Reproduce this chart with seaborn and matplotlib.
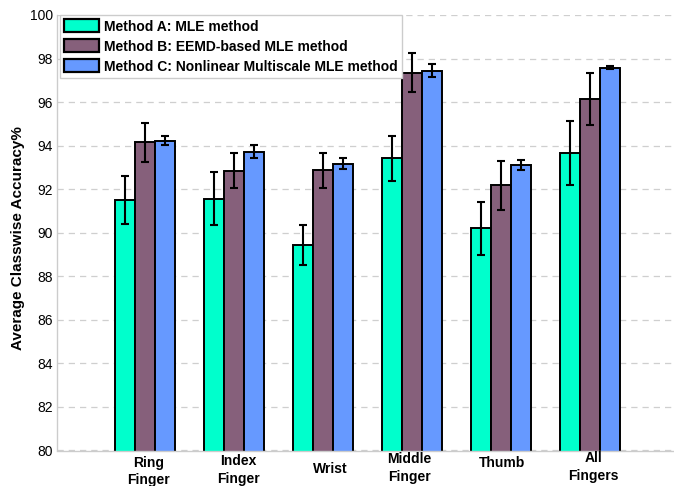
import numpy as np
import pandas as pd
import matplotlib
matplotlib.use("Agg")
import matplotlib.pyplot as plt
from matplotlib.patches import Patch
import seaborn as sns

# Classwise accuracy (%) per finger for the three methods, with error-bar half widths
categories = ["Ring\nFinger", "Index\nFinger", "Wrist", "Middle\nFinger", "Thumb", "All\nFingers"]
methods = [
    "Method A: MLE method",
    "Method B: EEMD-based MLE method",
    "Method C: Nonlinear Multiscale MLE method",
]
acc_a = [91.50, 91.57, 89.43, 93.41, 90.20, 93.67]
acc_b = [94.15, 92.85, 92.86, 97.35, 92.17, 96.13]
acc_c = [94.22, 93.72, 93.18, 97.45, 93.12, 97.58]
err_a = [1.10, 1.20, 0.92, 1.05, 1.23, 1.47]
err_b = [0.90, 0.80, 0.80, 0.90, 1.12, 1.19]
err_c = [0.21, 0.30, 0.23, 0.32, 0.22, 0.08]
yticks = [80, 82, 84, 86, 88, 90, 92, 94, 96, 98, 100]

colors = ["#00FFCC", "#86607B", "#6699FF"]

sns.set_style("white")
plt.rcParams["font.family"] = ["Liberation Sans", "DejaVu Sans"]
plt.rcParams["text.color"] = "black"
plt.rcParams["axes.labelcolor"] = "black"
plt.rcParams["ytick.color"] = "black"
plt.rcParams["xtick.color"] = "black"

accs = [acc_a, acc_b, acc_c]
errs = [err_a, err_b, err_c]
df = pd.DataFrame({
    "finger": categories * 3,
    "method": np.repeat(methods, len(categories)),
    "acc": acc_a + acc_b + acc_c,
})

W, H = 674, 486
fig = plt.figure(figsize=(W / 100, H / 100), dpi=100)
ax_left, ax_top, ax_bottom = 57, 15, 450.5
ax = fig.add_axes([ax_left / W, (H - ax_bottom) / H, (W - ax_left) / W, (ax_bottom - ax_top) / H])

sns.barplot(data=df, x="finger", y="acc", hue="method", order=categories,
            hue_order=methods, palette=colors, saturation=1, width=0.675,
            errorbar=None, edgecolor="black", linewidth=1.4, legend=False, ax=ax)

# error bars centred on each drawn bar
for cont, vals, ev in zip(ax.containers, accs, errs):
    xs = [b.get_x() + b.get_width() / 2 for b in cont]
    ax.errorbar(xs, vals, yerr=ev, fmt="none", ecolor="black",
                elinewidth=1.5, capsize=3, capthick=1.5, zorder=5)

ax.set_ylim(80, 100)
ax.set_xlim(-0.99, 5.94)
ax.set_yticks(yticks)
ax.set_yticklabels([str(t) for t in yticks], fontsize=10)
ax.tick_params(axis="y", length=0, pad=3)
ax.tick_params(axis="x", length=0)
ax.set_xticks(range(len(categories)))
ax.set_xticklabels([""] * len(categories))
ax.set_xlabel("")

ax.yaxis.grid(True, linestyle=(0, (5, 4)), color="#cfcfcf", linewidth=0.9)
ax.set_axisbelow(True)
for side in ["top", "right"]:
    ax.spines[side].set_visible(False)
for side in ["left", "bottom"]:
    ax.spines[side].set_color("#cccccc")
    ax.spines[side].set_linewidth(1.0)

ax.set_ylabel("Average Classwise Accuracy%", fontsize=11, fontweight="bold")
ax.yaxis.set_label_coords((25 - ax_left) / (W - ax_left), 0.488)

# category labels below the axis, staggered
label_dx = [3, 4, 7, -3, 1, 3]
label_dy = [-21, -19.5, -18.5, -17.5, -12.5, -16.5]
for i, (lab, dx, dy) in enumerate(zip(categories, label_dx, label_dy)):
    ax.annotate(lab, xy=(i, 0), xycoords=("data", "axes fraction"),
                xytext=(dx, dy), textcoords="offset pixels",
                ha="center", va="center", fontsize=10, fontweight="bold",
                linespacing=1.35, annotation_clip=False)

handles = [Patch(facecolor=c, edgecolor="black", linewidth=1.6) for c in colors]
leg = ax.legend(handles, methods, loc="upper left",
                bbox_to_anchor=(60 / W, 1 - 15 / H), bbox_transform=fig.transFigure,
                borderaxespad=0, fancybox=False, framealpha=1,
                prop={"weight": "bold", "size": 10},
                handlelength=2.5, handleheight=1.05, handletextpad=0.35,
                labelspacing=0.42, borderpad=0.32)
leg.get_frame().set_edgecolor("#cccccc")
leg.get_frame().set_linewidth(1.0)

fig.savefig("out.png", dpi=100)
